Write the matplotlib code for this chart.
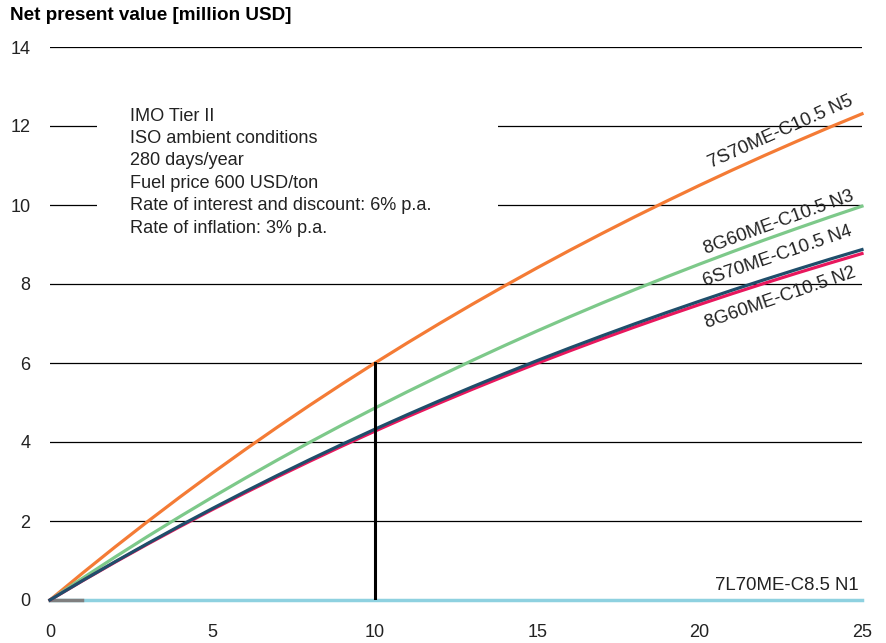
import matplotlib.pyplot as plt
from matplotlib.patches import Rectangle

plt.rcParams['font.family'] = ['Liberation Sans', 'DejaVu Sans']

years = list(range(0, 26))

# NPV, million USD, one value per year
npv_n5 = [0, 0.680, 1.341, 1.983, 2.607, 3.214, 3.803, 4.376, 4.932, 5.473, 5.998, 6.508, 7.004,
          7.486, 7.954, 8.410, 8.852, 9.281, 9.699, 10.104, 10.499, 10.882, 11.254, 11.615, 11.967, 12.308]
npv_n3 = [0, 0.551, 1.086, 1.607, 2.112, 2.603, 3.080, 3.544, 3.995, 4.433, 4.858, 5.272, 5.673,
          6.064, 6.443, 6.812, 7.170, 7.518, 7.856, 8.185, 8.504, 8.814, 9.116, 9.408, 9.693, 9.970]
npv_n4 = [0, 0.490, 0.967, 1.429, 1.879, 2.316, 2.741, 3.154, 3.555, 3.944, 4.323, 4.691, 5.048,
          5.395, 5.733, 6.061, 6.380, 6.689, 6.990, 7.282, 7.566, 7.843, 8.111, 8.371, 8.625, 8.871]
npv_n2 = [0, 0.485, 0.956, 1.413, 1.858, 2.290, 2.710, 3.118, 3.514, 3.900, 4.274, 4.638, 4.991,
          5.334, 5.668, 5.992, 6.307, 6.614, 6.911, 7.200, 7.481, 7.754, 8.019, 8.277, 8.527, 8.771]
npv_n1 = [0] * 26

payback_year = 10
payback_value = 6.0

notes = ["IMO Tier II",
         "ISO ambient conditions",
         "280 days/year",
         "Fuel price 600 USD/ton",
         "Rate of interest and discount: 6% p.a.",
         "Rate of inflation: 3% p.a."]

fig = plt.figure(figsize=(8.87, 6.43), dpi=100)
ax = fig.add_axes([50 / 887, 43 / 643, 812 / 887, 553 / 643])
ax.set_xlim(0, 25)
ax.set_ylim(0, 14)
for s in ax.spines.values():
    s.set_visible(False)

for y in range(0, 15, 2):
    ax.axhline(y, color='black', lw=0.9, zorder=1)

# white box behind the notes
ax.add_patch(Rectangle((1.45, 8.6), 12.35, 3.9, facecolor='white', edgecolor='none', zorder=2))
for i, line in enumerate(notes):
    ax.text(2.46, 12.25 - i * 0.567, line, fontsize=13.1, color='#222222',
            va='center', ha='left', zorder=3)

ax.plot(years, npv_n1, color='#8ED1E0', lw=2.5, zorder=4, clip_on=False)
ax.plot([0, 1], [0, 0], color='#7f7f7f', lw=2.5, zorder=4, clip_on=False)
ax.plot(years, npv_n5, color='#F47B35', lw=2.3, zorder=5, clip_on=False)
ax.plot(years, npv_n3, color='#7DC98A', lw=2.3, zorder=5, clip_on=False)
ax.plot(years, npv_n2, color='#E8175D', lw=2.3, zorder=5, clip_on=False)
ax.plot(years, npv_n4, color='#1F4E6B', lw=2.3, zorder=6, clip_on=False)
ax.plot([payback_year, payback_year], [0, payback_value], color='black', lw=2.2, zorder=7)

lab = dict(fontsize=13.4, color='#222222', ha='center', va='center', rotation_mode='anchor')
ax.text(22.5, 11.85, "7S70ME-C10.5 N5", rotation=24, **lab)
ax.text(22.45, 9.55, "8G60ME-C10.5 N3", rotation=20, **lab)
ax.text(22.4, 8.7, "6S70ME-C10.5 N4", rotation=19, **lab)
ax.text(22.5, 7.64, "8G60ME-C10.5 N2", rotation=19, **lab)
ax.text(24.9, 0.36, "7L70ME-C8.5 N1", fontsize=13.4, color='#222222', ha='right', va='center')

ax.set_xticks(range(0, 26, 5))
ax.set_yticks(range(0, 15, 2))
ax.tick_params(length=0, labelsize=13, labelcolor='#222222')
ax.tick_params(axis='x', pad=17)
ax.tick_params(axis='y', pad=14)

fig.text(10 / 887, 1 - 15 / 643, "Net present value [million USD]", fontsize=13.6,
         fontweight='bold', va='center', ha='left')

fig.savefig("out.png", dpi=100)
